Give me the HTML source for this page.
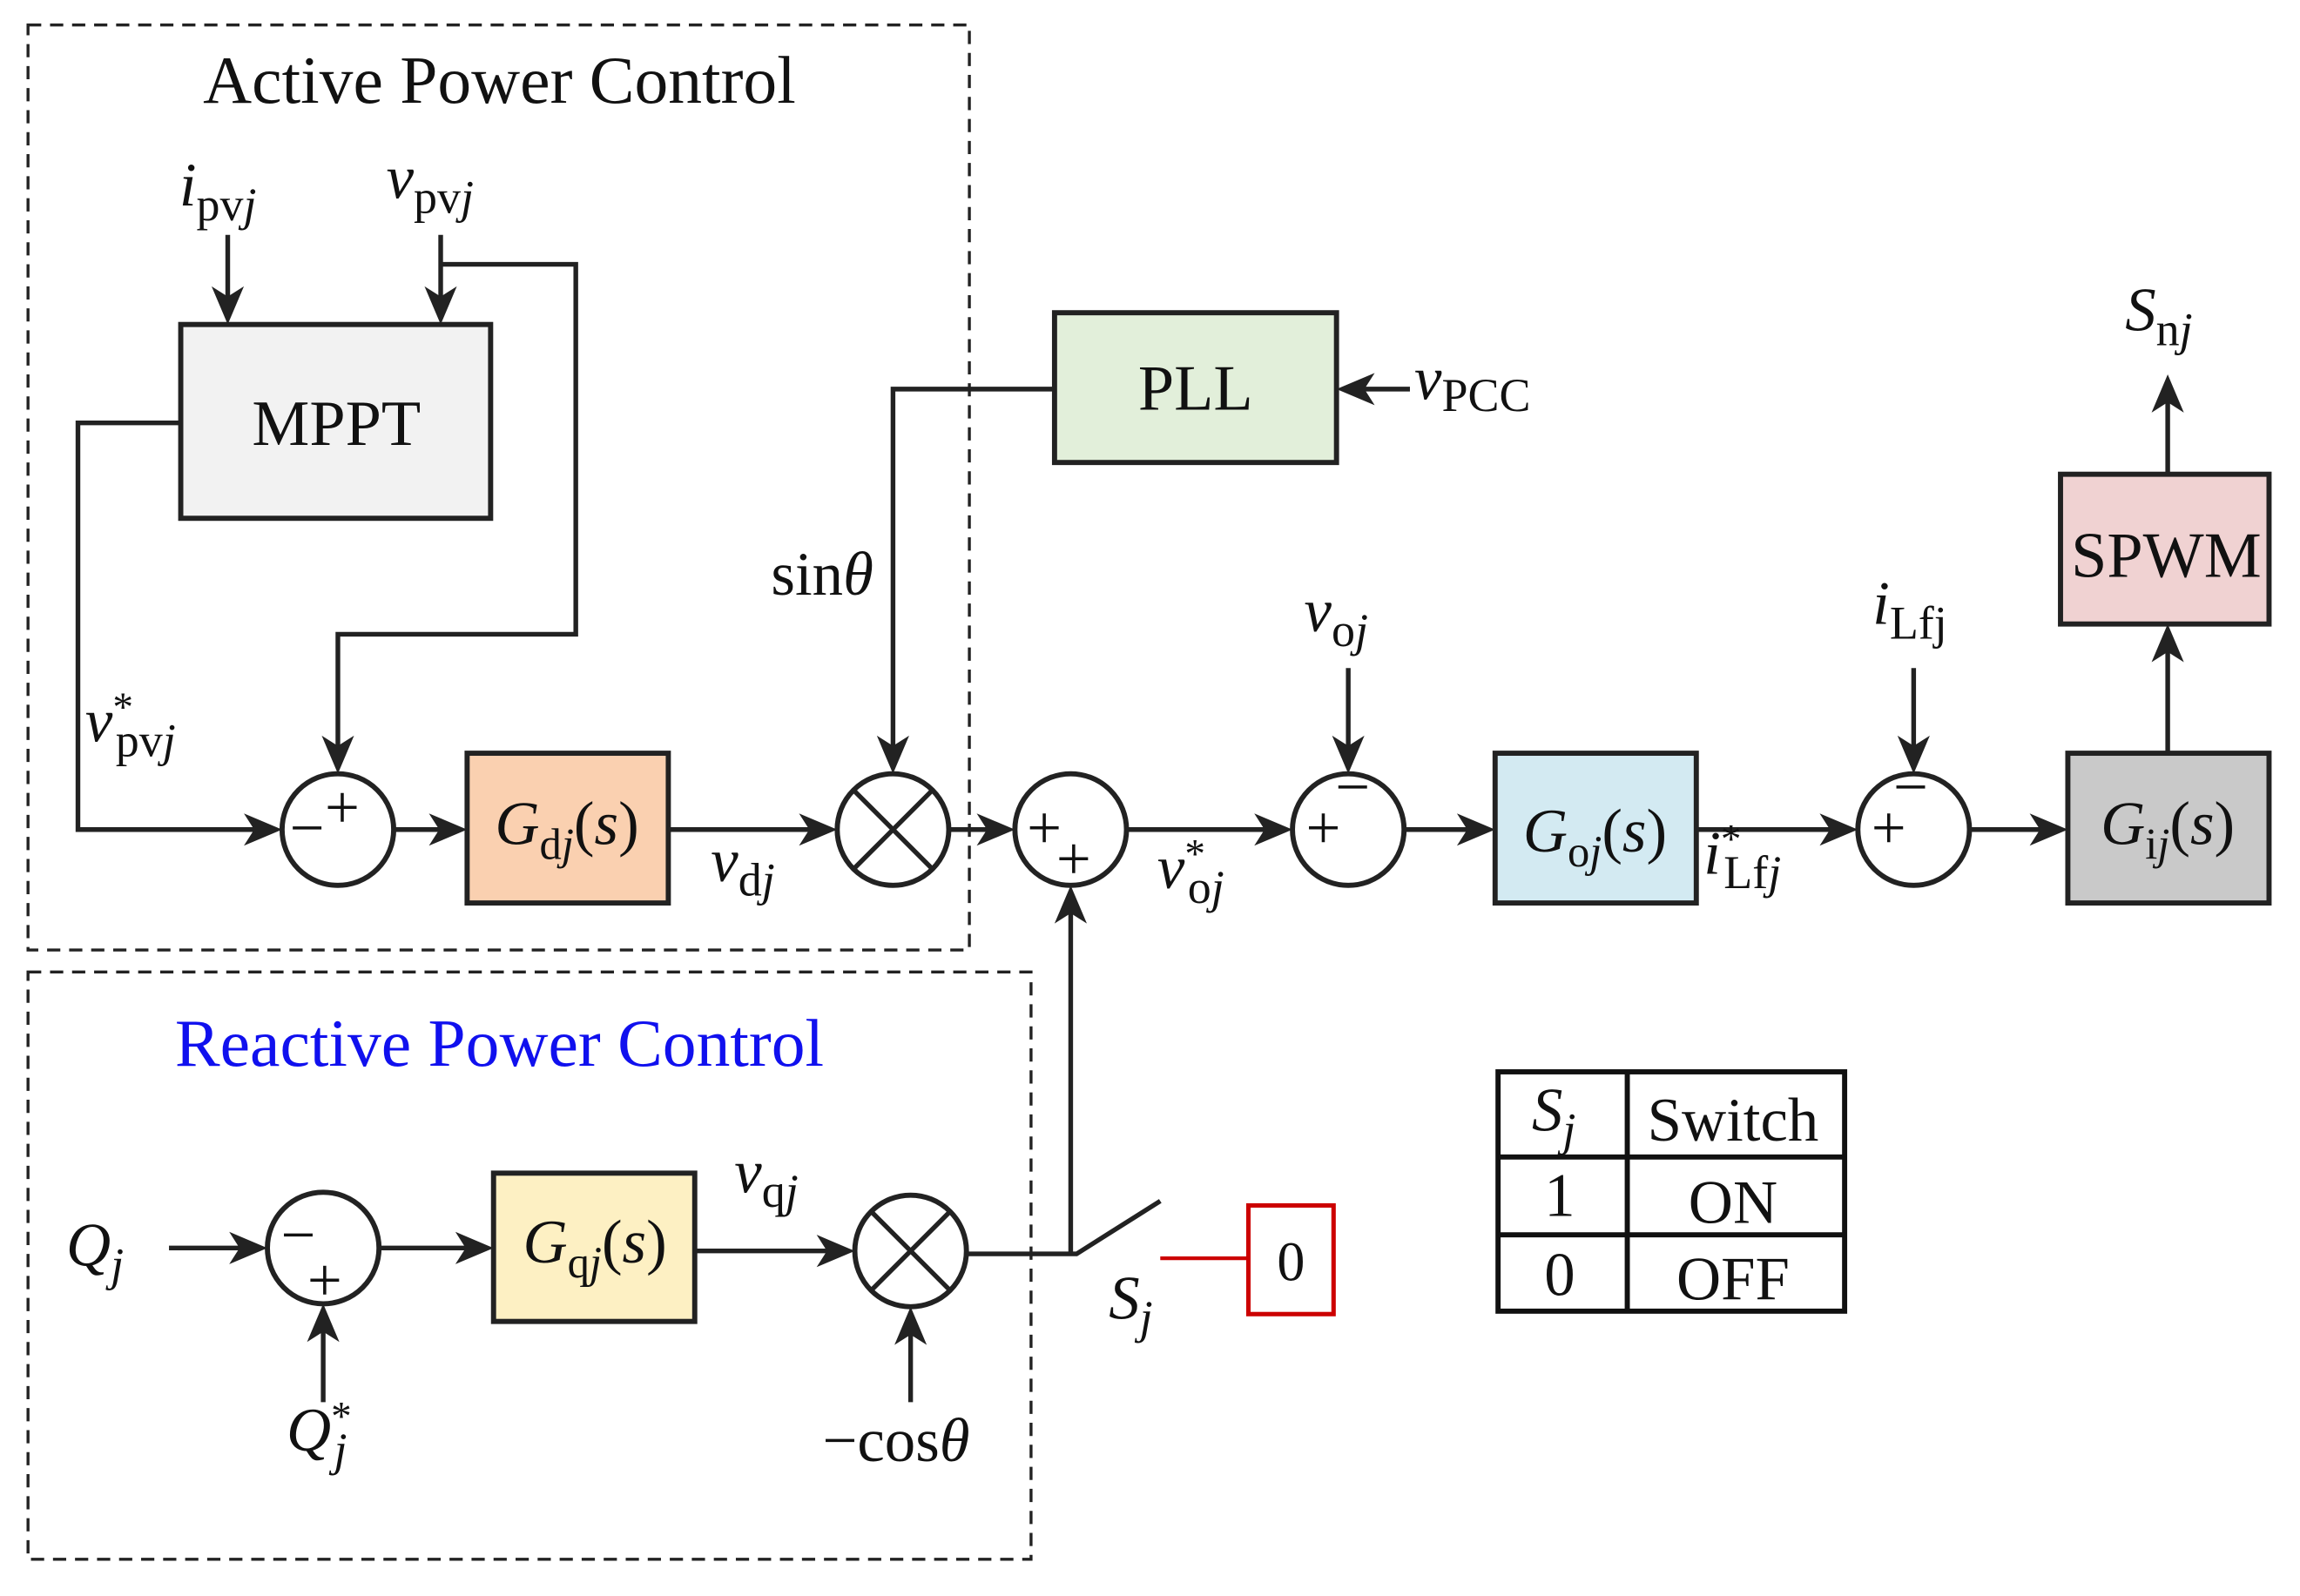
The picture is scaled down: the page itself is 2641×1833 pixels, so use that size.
<!DOCTYPE html>
<html><head><meta charset="utf-8"><style>
html,body{margin:0;padding:0;background:#fff;}
svg{display:block;}
text{font-family:"Liberation Serif",serif;fill:#111;}
.i{font-style:italic;}
</style></head><body>
<svg width="2641" height="1833" viewBox="0 0 1566 1087" xmlns="http://www.w3.org/2000/svg">
<g fill="none" stroke="#222" stroke-width="2" stroke-dasharray="9,6">
<rect x="19" y="17" width="641" height="630"/>
<rect x="19" y="662" width="683" height="400"/>
</g>
<text x="340" y="70" font-size="46" text-anchor="middle">Active Power Control</text>
<text x="340" y="726" font-size="46" text-anchor="middle" style="fill:#1010ee">Reactive Power Control</text>

<g stroke="#222" stroke-width="3.5">
<rect x="123" y="221" width="211" height="132" fill="#f2f2f2"/>
<rect x="318" y="513" width="137" height="102" fill="#fad0b0"/>
<rect x="718" y="213" width="192" height="102" fill="#e2efda"/>
<rect x="1018" y="513" width="137" height="102" fill="#d3eaf2"/>
<rect x="1408" y="513" width="137" height="102" fill="#c9c9c9"/>
<rect x="1403" y="323" width="142" height="102" fill="#f0d2d2"/>
<rect x="336" y="799" width="137" height="101" fill="#fdf0c3"/>
<circle cx="230" cy="565" r="38" fill="#fff"/>
<circle cx="608" cy="565" r="38" fill="#fff"/>
<circle cx="729" cy="565" r="38" fill="#fff"/>
<circle cx="918" cy="565" r="38" fill="#fff"/>
<circle cx="1303" cy="565" r="38" fill="#fff"/>
<circle cx="220" cy="850" r="38" fill="#fff"/>
<circle cx="620" cy="852" r="38" fill="#fff"/>
</g>
<g stroke="#222" stroke-width="3.2" fill="none">
<path d="M581,538 L635,592 M635,538 L581,592"/>
<path d="M593,825 L647,879 M647,825 L593,879"/>
<path d="M155,160 V205"/>
<path d="M300,160 V205 M300,180 H392 V432 H230 V512"/>
<path d="M123,288 H53 V565 H177"/>
<path d="M268,565 H302"/>
<path d="M455,565 H555"/>
<path d="M718,265 H608 V512"/>
<path d="M960,265 H926"/>
<path d="M646,565 H676"/>
<path d="M767,565 H865"/>
<path d="M918,455 V512"/>
<path d="M956,565 H1002"/>
<path d="M1155,565 H1250"/>
<path d="M1303,455 V512"/>
<path d="M1341,565 H1392"/>
<path d="M1476,513 V441"/>
<path d="M1476,323 V271"/>
<path d="M115,850 H167"/>
<path d="M220,955 V903"/>
<path d="M258,850 H320"/>
<path d="M473,852 H567"/>
<path d="M620,955 V905"/>
<path d="M658,854 H733 L790,818"/>
<path d="M729,854 V619"/>
</g>
<path d="M790,857 H850" stroke="#c00" stroke-width="2.5"/>
<rect x="850" y="821" width="58" height="74" fill="#fff" stroke="#c00" stroke-width="3"/>
<text x="879" y="872" font-size="38" text-anchor="middle">0</text>
<g fill="#222">
<path d="M155,221 l-11,-26 l11,7 l11,-7z"/>
<path d="M300,221 l-11,-26 l11,7 l11,-7z"/>
<path d="M230,527 l-11,-26 l11,7 l11,-7z"/>
<path d="M192,565 l-26,-11 l7,11 l-7,11z"/>
<path d="M318,565 l-26,-11 l7,11 l-7,11z"/>
<path d="M570,565 l-26,-11 l7,11 l-7,11z"/>
<path d="M608,527 l-11,-26 l11,7 l11,-7z"/>
<path d="M910,265 l26,-11 l-7,11 l7,11z"/>
<path d="M691,565 l-26,-11 l7,11 l-7,11z"/>
<path d="M880,565 l-26,-11 l7,11 l-7,11z"/>
<path d="M918,527 l-11,-26 l11,7 l11,-7z"/>
<path d="M1018,565 l-26,-11 l7,11 l-7,11z"/>
<path d="M1265,565 l-26,-11 l7,11 l-7,11z"/>
<path d="M1303,527 l-11,-26 l11,7 l11,-7z"/>
<path d="M1408,565 l-26,-11 l7,11 l-7,11z"/>
<path d="M1476,425 l-11,26 l11,-7 l11,7z"/>
<path d="M1476,255 l-11,26 l11,-7 l11,7z"/>
<path d="M729,603 l-11,26 l11,-7 l11,7z"/>
<path d="M182,850 l-26,-11 l7,11 l-7,11z"/>
<path d="M220,888 l-11,26 l11,-7 l11,7z"/>
<path d="M336,850 l-26,-11 l7,11 l-7,11z"/>
<path d="M582,852 l-26,-11 l7,11 l-7,11z"/>
<path d="M620,890 l-11,26 l11,-7 l11,7z"/>
</g>
<g font-size="42" text-anchor="middle">
<text x="233" y="564">+</text><text x="209" y="578">−</text>
<text x="711" y="578">+</text><text x="731" y="599">+</text>
<text x="921" y="550">−</text><text x="901" y="578">+</text>
<text x="1301" y="550">−</text><text x="1286" y="578">+</text>
<text x="203" y="855">−</text><text x="221" y="886">+</text>
</g>
<text x="229" y="303" font-size="44" text-anchor="middle">MPPT</text>
<text x="814" y="279" font-size="44" text-anchor="middle">PLL</text>
<text x="1475" y="393" font-size="44" text-anchor="middle">SPWM</text>
<text x="386" y="575" font-size="42" text-anchor="middle"><tspan class="i">G</tspan><tspan font-size="30" dy="10">d</tspan><tspan font-size="30" class="i">j</tspan><tspan dy="-10">(</tspan><tspan class="i">s</tspan>)</text>
<text x="1086" y="580" font-size="42" text-anchor="middle"><tspan class="i">G</tspan><tspan font-size="30" dy="10">o</tspan><tspan font-size="30" class="i">j</tspan><tspan dy="-10">(</tspan><tspan class="i">s</tspan>)</text>
<text x="1476" y="575" font-size="42" text-anchor="middle"><tspan class="i">G</tspan><tspan font-size="30" dy="10">i</tspan><tspan font-size="30" class="i">j</tspan><tspan dy="-10">(</tspan><tspan class="i">s</tspan>)</text>
<text x="405" y="860" font-size="42" text-anchor="middle"><tspan class="i">G</tspan><tspan font-size="30" dy="10">q</tspan><tspan font-size="30" class="i">j</tspan><tspan dy="-10">(</tspan><tspan class="i">s</tspan>)</text>
<g font-size="42">
<text x="122" y="140"><tspan class="i">i</tspan><tspan font-size="32" dy="10">pv</tspan><tspan font-size="32" class="i">j</tspan></text>
<text x="263" y="135"><tspan class="i">v</tspan><tspan font-size="32" dy="10">pv</tspan><tspan font-size="32" class="i">j</tspan></text>
<text x="58" y="505"><tspan class="i">v</tspan><tspan font-size="28" dy="-14">*</tspan><tspan font-size="32" dx="-12" dy="24">pv</tspan><tspan font-size="32" class="i">j</tspan></text>
<text x="525" y="405">sin<tspan class="i">θ</tspan></text>
<text x="484" y="600"><tspan class="i">v</tspan><tspan font-size="32" dy="10">d</tspan><tspan font-size="32" class="i">j</tspan></text>
<text x="963" y="272"><tspan class="i">v</tspan><tspan font-size="32" dy="8">PCC</tspan></text>
<text x="888" y="430"><tspan class="i">v</tspan><tspan font-size="32" dy="10">o</tspan><tspan font-size="32" class="i">j</tspan></text>
<text x="788" y="605"><tspan class="i">v</tspan><tspan font-size="28" dy="-14">*</tspan><tspan font-size="32" dx="-12" dy="24">o</tspan><tspan font-size="32" class="i">j</tspan></text>
<text x="1160" y="595"><tspan class="i">i</tspan><tspan font-size="28" dy="-14">*</tspan><tspan font-size="32" dx="-12" dy="24">Lf</tspan><tspan font-size="32" class="i">j</tspan></text>
<text x="1275" y="425"><tspan class="i">i</tspan><tspan font-size="32" dy="10">Lfj</tspan></text>
<text x="1447" y="225"><tspan class="i">S</tspan><tspan font-size="32" dy="10">n</tspan><tspan font-size="32" class="i">j</tspan></text>
<text x="45" y="862"><tspan class="i">Q</tspan><tspan font-size="32" class="i" dy="10">j</tspan></text>
<text x="195" y="988"><tspan class="i">Q</tspan><tspan font-size="28" dy="-14">*</tspan><tspan font-size="32" class="i" dx="-12" dy="24">j</tspan></text>
<text x="500" y="812"><tspan class="i">v</tspan><tspan font-size="32" dy="10">q</tspan><tspan font-size="32" class="i">j</tspan></text>
<text x="560" y="995">−cos<tspan class="i">θ</tspan></text>
<text x="755" y="898"><tspan class="i">S</tspan><tspan font-size="32" class="i" dy="10">j</tspan></text>
</g>
<g stroke="#111" stroke-width="3.5" fill="none">
<rect x="1020" y="730" width="236" height="163"/>
<path d="M1020,788 H1256 M1020,841 H1256 M1108,730 V893"/>
</g>
<g font-size="42" text-anchor="middle">
<text x="1058" y="770"><tspan class="i">S</tspan><tspan font-size="32" class="i" dy="10">j</tspan></text>
<text x="1180" y="777">Switch</text>
<text x="1062" y="828">1</text>
<text x="1180" y="833">ON</text>
<text x="1062" y="882">0</text>
<text x="1180" y="885">OFF</text>
</g>
</svg>
</body></html>
